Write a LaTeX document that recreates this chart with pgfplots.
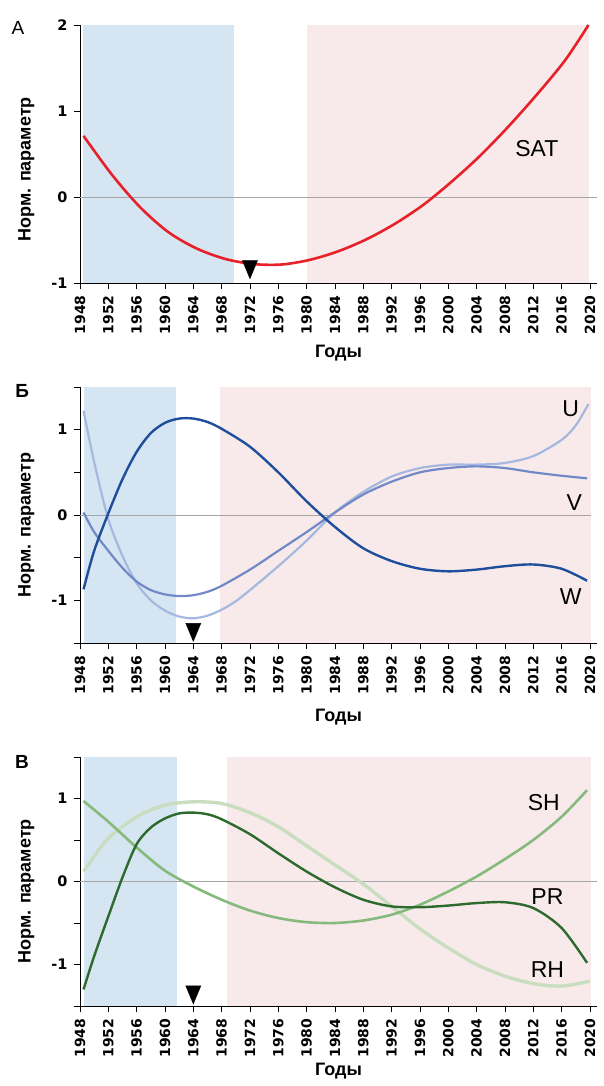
\documentclass[border=0pt]{standalone}
\usepackage{pgfplots}
\pgfplotsset{compat=1.18}
\usepackage{fontspec}
\setmainfont{Liberation Sans}
\newfontfamily\tickfont{DejaVu Sans}
\definecolor{shblue}{HTML}{D5E5F1}
\definecolor{shpink}{HTML}{F8EAEA}
\definecolor{satred}{HTML}{E8202A}
\definecolor{wblue}{HTML}{1F4E9C}
\definecolor{vblue}{HTML}{7189C6}
\definecolor{ublue}{HTML}{A4B8E0}
\definecolor{prgreen}{HTML}{2D6A2D}
\definecolor{shgreen}{HTML}{86BA7D}
\definecolor{rhgreen}{HTML}{C8DEBF}
\pgfplotsset{
  panel/.style={
    scale only axis, width=517pt, xmin=1948, xmax=2021,
    axis lines*=left, axis line style={black, line width=0.8pt},
    tick align=outside, major tick length=6pt,
    tick style={black, line width=0.8pt},
    xtick={1948,1952,...,2020},
    xticklabels={1948,1952,1956,1960,1964,1968,1972,1976,1980,1984,1988,1992,1996,2000,2004,2008,2012,2016,2020},
    xticklabel style={rotate=90, anchor=east, font=\fontsize{14}{14}\tickfont\bfseries},
    xticklabel shift=3pt,
    yticklabel style={font=\fontsize{14.5}{15}\tickfont\bfseries},
    yticklabel shift=3pt,
    xlabel={Годы},
    ylabel={Норм. параметр},
    ylabel style={font=\fontsize{18}{19}\selectfont\bfseries, at={(axis description cs:-0.104,0.46)}, anchor=center, rotate=0},
    clip=false,
  },
  curve/.style={smooth, no marks},
  tri/.style={only marks, mark=triangle*, mark size=8.7pt, mark options={rotate=180, yscale=1.38, fill=black, draw=black}},
}
\tikzset{lab/.style={font=\fontsize{23}{24}\selectfont, anchor=center}}
\begin{document}
\begin{tikzpicture}
\path[use as bounding box] (0,0) rectangle (603pt,1086pt);
% ---------------- Panel A
\begin{axis}[panel, at={(80pt,803pt)}, anchor=south west, height=258pt,
  ymin=-1, ymax=2, ytick={-1,0,1,2}, yticklabels={-1,0,1,2},
  xlabel style={font=\fontsize{18}{19}\selectfont\bfseries, at={(axis description cs:0.5,0)}, anchor=center, yshift=-70pt},
  ylabel style={at={(axis description cs:-0.104,0.44)}}]
\addplot[fill=shblue, draw=none] coordinates {(1948.4,-1) (1969.8,-1) (1969.8,2) (1948.4,2)} -- cycle;
\addplot[fill=shpink, draw=none] coordinates {(1980.1,-1) (2019.9,-1) (2019.9,2) (1980.1,2)} -- cycle;
\addplot[gray!70, line width=0.6pt] coordinates {(1948,0) (2021,0)};
\addplot[curve, satred, line width=2.6pt] coordinates {
(1948.5,0.71) (1952.5,0.26) (1956.5,-0.12) (1960.5,-0.41) (1964.5,-0.60) (1968.5,-0.72)
(1972.5,-0.78) (1976.5,-0.785) (1980.5,-0.73) (1984.5,-0.63) (1988.5,-0.49) (1992.5,-0.31)
(1996.5,-0.09) (2000.5,0.18) (2004.5,0.48) (2008.5,0.82) (2012.5,1.19) (2016.5,1.59) (2019.8,2.0)};
\addplot[tri] coordinates {(1972,-0.81)};
\node[lab] at (axis cs:2012.5,0.56) {SAT};
\node[font=\fontsize{19}{20}\selectfont, anchor=center] at (axis description cs:-0.12,0.99) {А};
\end{axis}
% ---------------- Panel B
\begin{axis}[panel, at={(80pt,443pt)}, anchor=south west, height=256pt,
  ymin=-1.5, ymax=1.5, ytick={-1.5,-1,-0.5,0,0.5,1,1.5}, yticklabels={,-1,,0,,1,},
  xlabel style={font=\fontsize{18}{19}\selectfont\bfseries, at={(axis description cs:0.5,0)}, anchor=center, yshift=-74pt}]
\addplot[fill=shblue, draw=none] coordinates {(1948.5,-1.5) (1961.6,-1.5) (1961.6,1.5) (1948.5,1.5)} -- cycle;
\addplot[fill=shpink, draw=none] coordinates {(1967.8,-1.5) (2020.2,-1.5) (2020.2,1.5) (1967.8,1.5)} -- cycle;
\addplot[gray!70, line width=0.6pt] coordinates {(1948,0) (2020.2,0)};
% U
\addplot[curve, ublue, line width=2.2pt] coordinates {
(1948.5,1.22) (1950,0.62) (1952,-0.05) (1954,-0.48) (1956,-0.80) (1958,-1.00) (1960,-1.12)
(1962,-1.19) (1964,-1.21) (1966,-1.18) (1968,-1.11) (1970,-1.01) (1972,-0.88) (1976,-0.60)
(1980,-0.30) (1984,0.03) (1988,0.27) (1992,0.45) (1996,0.55) (2000,0.59) (2004,0.59)
(2008,0.61) (2012,0.69) (2016,0.88) (2018,1.05) (2019.8,1.30)};
% V
\addplot[curve, vblue, line width=2.2pt] coordinates {
(1948.5,0.03) (1950,-0.20) (1952,-0.42) (1954,-0.62) (1956,-0.78) (1958,-0.88) (1960,-0.93)
(1962,-0.95) (1964,-0.94) (1966,-0.90) (1968,-0.83) (1972,-0.64) (1976,-0.42) (1980,-0.20)
(1984,0.03) (1988,0.24) (1992,0.39) (1996,0.50) (2000,0.55) (2004,0.57) (2008,0.55)
(2012,0.50) (2016,0.46) (2019.6,0.43)};
% W
\addplot[curve, wblue, line width=2.4pt] coordinates {
(1948.5,-0.87) (1950,-0.42) (1952,0.02) (1954,0.42) (1956,0.74) (1958,0.96) (1960,1.08)
(1962,1.13) (1964,1.13) (1966,1.09) (1968,1.01) (1972,0.80) (1976,0.50) (1980,0.16)
(1984,-0.14) (1988,-0.39) (1992,-0.54) (1996,-0.63) (2000,-0.66) (2004,-0.64) (2008,-0.60)
(2012,-0.58) (2016,-0.63) (2019.6,-0.77)};
\addplot[tri] coordinates {(1964,-1.34)};
\node[lab] at (axis cs:2017.3,1.25) {U};
\node[lab] at (axis cs:2017.8,0.14) {V};
\node[lab] at (axis cs:2017.3,-0.96) {W};
\node[font=\fontsize{19}{20}\selectfont\bfseries, anchor=center] at (axis description cs:-0.112,0.985) {Б};
\end{axis}
% ---------------- Panel C
\begin{axis}[panel, at={(80pt,80pt)}, anchor=south west, height=249pt,
  ymin=-1.5, ymax=1.5, ytick={-1.5,-1,-0.5,0,0.5,1,1.5}, yticklabels={,-1,,0,,1,},
  xlabel style={font=\fontsize{18}{19}\selectfont\bfseries, at={(axis description cs:0.5,0)}, anchor=center, yshift=-65pt}]
\addplot[fill=shblue, draw=none] coordinates {(1948.5,-1.5) (1961.7,-1.5) (1961.7,1.5) (1948.5,1.5)} -- cycle;
\addplot[fill=shpink, draw=none] coordinates {(1968.7,-1.5) (2020.2,-1.5) (2020.2,1.5) (1968.7,1.5)} -- cycle;
\addplot[gray!70, line width=0.6pt] coordinates {(1948,0) (2021,0)};
% RH
\addplot[curve, rhgreen, line width=3.4pt] coordinates {
(1948.5,0.12) (1950,0.30) (1952,0.52) (1956,0.78) (1960,0.92) (1964,0.96) (1968,0.94)
(1972,0.83) (1976,0.66) (1980,0.43) (1984,0.20) (1988,-0.03) (1992,-0.30) (1996,-0.57)
(2000,-0.80) (2004,-1.00) (2008,-1.14) (2012,-1.23) (2016,-1.26) (2020,-1.20)};
% SH
\addplot[curve, shgreen, line width=2.6pt] coordinates {
(1948.5,0.97) (1952,0.72) (1956,0.41) (1960,0.13) (1964,-0.06) (1968,-0.22) (1972,-0.35)
(1976,-0.44) (1980,-0.49) (1984,-0.50) (1988,-0.47) (1992,-0.40) (1996,-0.28) (2000,-0.12)
(2004,0.06) (2008,0.27) (2012,0.50) (2016,0.78) (2019.6,1.10)};
% PR
\addplot[curve, prgreen, line width=2.4pt] coordinates {
(1948.5,-1.30) (1950,-0.90) (1952,-0.42) (1954,0.05) (1956,0.45) (1958,0.65) (1960,0.76)
(1962,0.82) (1964,0.83) (1966,0.81) (1968,0.75) (1972,0.57) (1976,0.34) (1980,0.12)
(1984,-0.07) (1988,-0.22) (1992,-0.30) (1996,-0.31) (2000,-0.29) (2004,-0.26) (2008,-0.25)
(2012,-0.32) (2016,-0.56) (2019.6,-0.98)};
\addplot[tri] coordinates {(1964,-1.33)};
\node[lab] at (axis cs:2013.5,0.95) {SH};
\node[lab] at (axis cs:2014,-0.18) {PR};
\node[lab] at (axis cs:2014,-1.06) {RH};
\node[font=\fontsize{19}{20}\selectfont\bfseries, anchor=center] at (axis description cs:-0.112,0.98) {В};
\end{axis}
\end{tikzpicture}
\end{document}
